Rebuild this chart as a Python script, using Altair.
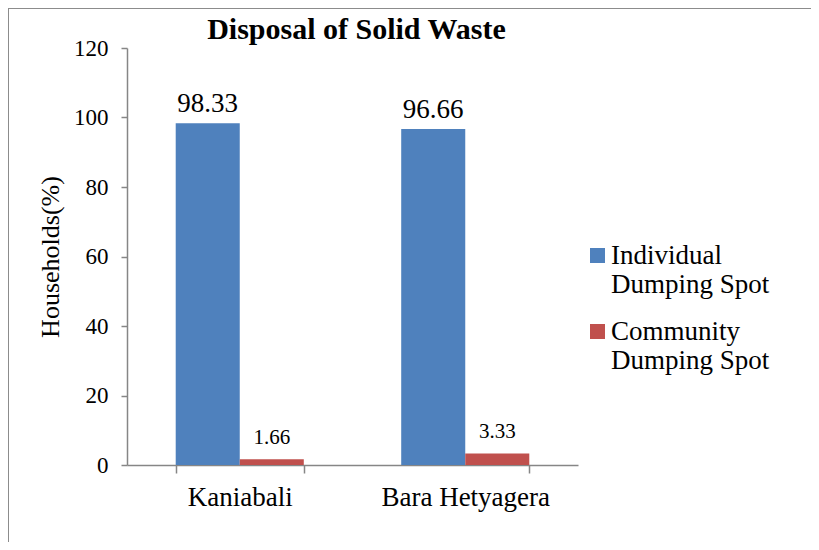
import altair as alt
import pandas as pd

villages = ["Kaniabali", "Bara Hetyagera"]
series = ["Individual Dumping Spot", "Community Dumping Spot"]
individual = [98.33, 96.66]
community = [1.66, 3.33]
colors = ["#4F81BD", "#C0504D"]
y_ticks = [0, 20, 40, 60, 80, 100, 120]

rows = []
for i, v in enumerate(villages):
    rows.append({"village": v, "series": series[0], "value": individual[i]})
    rows.append({"village": v, "series": series[1], "value": community[i]})
df = pd.DataFrame(rows)

FONT = "Liberation Serif"
AX = "#868686"

x = alt.X(
    "village:N", sort=villages,
    scale=alt.Scale(paddingInner=0.432, paddingOuter=0.216),
    axis=alt.Axis(title=None, labelAngle=0, labelFont=FONT, labelFontSize=27,
                  labelColor="black", tickBand="extent", tickSize=8,
                  labelPadding=11, domainColor=AX, tickColor=AX,
                  domainWidth=1.5, tickWidth=1.5),
)
xoff = alt.XOffset("series:N", sort=series,
                   scale=alt.Scale(paddingInner=0, paddingOuter=0))
y = alt.Y(
    "value:Q", scale=alt.Scale(domain=[0, 120]),
    axis=alt.Axis(values=y_ticks, title="Households(%)", grid=False,
                  labelFont=FONT, labelFontSize=23, labelColor="black",
                  titleFont=FONT, titleFontSize=26, titleFontWeight="normal",
                  titleColor="black", titlePadding=10, tickSize=6,
                  labelPadding=13, domainColor=AX, tickColor=AX,
                  domainWidth=1.5, tickWidth=1.5),
)
color = alt.Color(
    "series:N",
    scale=alt.Scale(domain=series, range=colors),
    legend=alt.Legend(
        title=None, orient="none", legendX=457, legendY=194,
        symbolType="square", symbolSize=225, symbolStrokeWidth=0,
        labelFont=FONT, labelFontSize=27, labelColor="black",
        labelOffset=0, labelLimit=400, rowPadding=19,
        labelExpr="split(replace(datum.label, ' Dumping', '|Dumping'), '|')",
    ),
)

base = alt.Chart(df)
bars = base.mark_bar().encode(x=x, xOffset=xoff, y=y, color=color)
big = base.transform_filter(alt.datum.series == series[0]).mark_text(
    font=FONT, fontSize=27, dy=-11, baseline="alphabetic", color="black"
).encode(x=x, xOffset=xoff, y=y, text=alt.Text("value:Q", format=".2f"))
small = base.transform_filter(alt.datum.series == series[1]).mark_text(
    font=FONT, fontSize=21, dy=-15, baseline="alphabetic", color="black"
).encode(x=x, xOffset=xoff, y=y, text=alt.Text("value:Q", format=".2f"))

one = pd.DataFrame({"k": [0]})
frame_top = alt.Chart(one).mark_rule(color="#8c8c8c", strokeWidth=2).encode(
    x=alt.value(-119), x2=alt.value(684), y=alt.value(-40))
frame_left = alt.Chart(one).mark_rule(color="#8c8c8c", strokeWidth=2).encode(
    x=alt.value(-119), y=alt.value(-40), y2=alt.value(494))

chart = alt.layer(bars, big, small, frame_top, frame_left).properties(
    width=451, height=417,
    autosize=alt.AutoSizeParams(type="none"),
    padding={"left": 119, "top": 40, "right": 233, "bottom": 77},
    title=alt.TitleParams("Disposal of Solid Waste", font=FONT, fontSize=30,
                          fontWeight="bold", color="black", anchor="middle",
                          baseline="bottom", offset=0, dx=4, dy=68),
).configure_view(stroke=None)

chart.save("out.html", embed_options={"renderer": "svg", "actions": False})
